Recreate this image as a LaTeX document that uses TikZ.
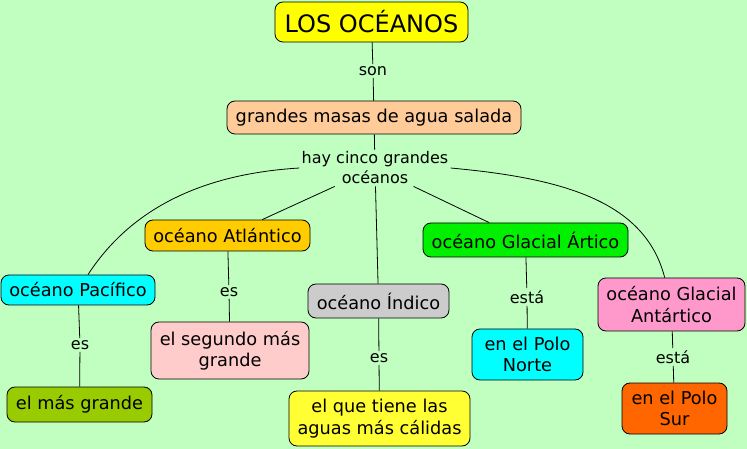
\documentclass[tikz,border=0pt]{standalone}
\usepackage{fontspec}
\setmainfont{DejaVu Sans}
\definecolor{bg}{HTML}{C0FFC0}
\definecolor{cTitle}{HTML}{FFFF00}
\definecolor{cGm}{HTML}{FFCC99}
\definecolor{cAtl}{HTML}{FFCC00}
\definecolor{cPac}{HTML}{00FFFF}
\definecolor{cInd}{HTML}{CCCCCC}
\definecolor{cArt}{HTML}{00F000}
\definecolor{cAnt}{HTML}{FF99CC}
\definecolor{cMg}{HTML}{99CC00}
\definecolor{cSeg}{HTML}{FFCCCC}
\definecolor{cAgu}{HTML}{FFFF33}
\definecolor{cSur}{HTML}{FF6600}
\tikzset{
  box/.style={draw=black, rounded corners=6pt, line width=0.6pt, align=center,
    font=\fontsize{13.3}{16}\selectfont, inner sep=0pt},
  lbl/.style={align=center, font=\fontsize{12}{15}\selectfont, inner sep=1.5pt},
  conn/.style={draw=black, line width=0.6pt}
}
\begin{document}
\begin{tikzpicture}[x=0.75pt,y=-0.75pt]
\fill[bg] (0,0) rectangle (747,449);
\useasboundingbox (0,0) rectangle (747,449);
% nodes
\node[box, fill=cTitle, minimum width=193*0.75pt, minimum height=40*0.75pt, font=\fontsize{18}{20}\selectfont] (title) at (371.5,22) {LOS OCÉANOS};
\node[lbl] (son) at (373,71) {son};
\node[box, fill=cGm, minimum width=294*0.75pt, minimum height=33*0.75pt] (gm) at (374,117.5) {grandes masas de agua salada};
\node[lbl] (hay) at (375,168) {hay cinco grandes\\océanos};
\node[box, fill=cAtl, minimum width=165*0.75pt, minimum height=31*0.75pt] (atl) at (227.5,235.5) {océano Atlántico};
\node[box, fill=cPac, minimum width=154*0.75pt, minimum height=30*0.75pt] (pac) at (78,290) {océano Pacífico};
\node[box, fill=cInd, minimum width=141*0.75pt, minimum height=34*0.75pt] (ind) at (378.5,301) {océano Índico};
\node[box, fill=cArt, minimum width=205*0.75pt, minimum height=34*0.75pt] (art) at (525.5,240) {océano Glacial Ártico};
\node[box, fill=cAnt, minimum width=147*0.75pt, minimum height=53*0.75pt] (ant) at (671.5,304.5) {océano Glacial\\Antártico};
\node[lbl] (es1) at (80,345) {es};
\node[box, fill=cMg, minimum width=145*0.75pt, minimum height=35*0.75pt] (mg) at (79.5,404.5) {el más grande};
\node[lbl] (es2) at (229,292) {es};
\node[box, fill=cSeg, minimum width=158*0.75pt, minimum height=57*0.75pt] (seg) at (230,350.5) {el segundo más\\grande};
\node[lbl] (es3) at (379,358) {es};
\node[box, fill=cAgu, minimum width=181*0.75pt, minimum height=55*0.75pt] (agu) at (379.5,418.5) {el que tiene las\\aguas más cálidas};
\node[lbl] (esta1) at (527,297) {está};
\node[box, fill=cPac, minimum width=111*0.75pt, minimum height=51*0.75pt] (norte) at (527.5,354.5) {en el Polo\\Norte};
\node[lbl] (esta2) at (673,357) {está};
\node[box, fill=cSur, minimum width=105*0.75pt, minimum height=51*0.75pt] (sur) at (674.5,408.5) {en el Polo\\Sur};
% connectors
\path[conn] (title) -- (son);
\path[conn] (son) -- (gm);
\path[conn] (gm) -- (hay);
\path[conn] (hay) -- (atl);
\path[conn] (hay) -- (ind);
\path[conn] (hay) -- (art);
\path[conn] (hay.west) .. controls (200,174) and (130,210) .. (pac);
\path[conn] (hay.east) .. controls (560,178) and (645,200) .. (ant);
\path[conn] (pac) -- (es1);
\path[conn] (es1) -- (mg);
\path[conn] (atl) -- (es2);
\path[conn] (es2) -- (seg);
\path[conn] (ind) -- (es3);
\path[conn] (es3) -- (agu);
\path[conn] (art) -- (esta1);
\path[conn] (esta1) -- (norte);
\path[conn] (ant) -- (esta2);
\path[conn] (esta2) -- (sur);
\end{tikzpicture}
\end{document}
